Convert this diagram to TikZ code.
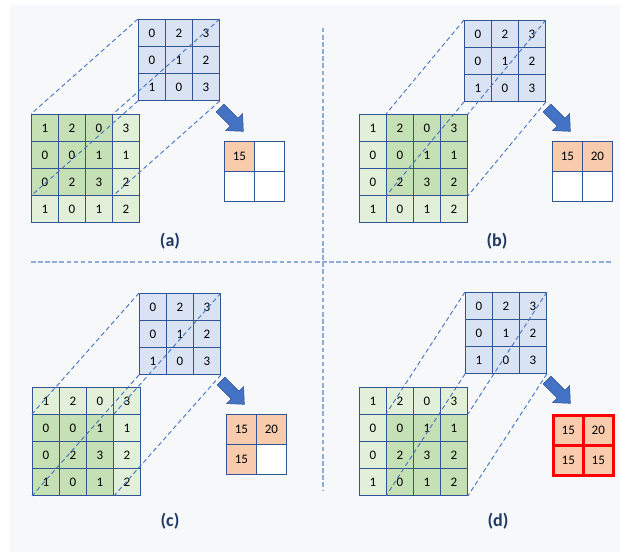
\documentclass[tikz,border=0pt]{standalone}
\usepackage{fontspec}
\setmainfont{Carlito}
\definecolor{bg}{HTML}{F7F8FA}
\definecolor{gridblue}{HTML}{2F5597}
\definecolor{kblue}{HTML}{DAE3F3}
\definecolor{lgreen}{HTML}{E2F0D9}
\definecolor{wgreen}{HTML}{C5E0B4}
\definecolor{oorange}{HTML}{F8CBAD}
\definecolor{guide}{HTML}{4472C4}
\definecolor{sep}{HTML}{8FAADC}
\definecolor{navy}{HTML}{203864}
\definecolor{arrowedge}{HTML}{2F528F}
\tikzset{
  cellbase/.style={draw=gridblue, line width=0.9pt, inner sep=0pt, anchor=north west, font=\fontsize{13}{15}\selectfont},
  kcell/.style={cellbase, minimum size=27pt, fill=kblue},
  icell/.style={cellbase, minimum size=27pt},
  ocell/.style={cellbase, minimum size=30pt, fill=white},
  redcell/.style={cellbase, draw=red, line width=2.6pt, minimum size=30pt, fill=oorange},
  guideline/.style={draw=guide, line width=0.9pt, dash pattern=on 4.5pt off 3pt},
  sepline/.style={draw=sep, line width=2pt, dash pattern=on 4.5pt off 2.6pt},
  bigarrow/.style={fill=guide, draw=arrowedge, line width=0.5pt},
  lab/.style={font=\fontsize{18}{21}\selectfont\bfseries, text=navy, inner sep=0pt}
}
% #1 name, #2 kx, #3 ky, #4 ix, #5 iy, #6 window row, #7 window col, #8 arrow x, #9 arrow y
\newcommand\drawpanel[9]{%
  \foreach \row [count=\r from 0] in {{0,2,3},{0,1,2},{1,0,3}}{
    \foreach \v [count=\cc from 0] in \row {
      \node[kcell] (#1-k-\r-\cc) at (#2+\cc*27, #3+\r*27) {\v};
    }
  }
  \foreach \row [count=\r from 0] in {{1,2,0,3},{0,0,1,1},{0,2,3,2},{1,0,1,2}}{
    \foreach \v [count=\cc from 0] in \row {
      \pgfmathtruncatemacro\hl{and(and(\r>=#6,\r<=#6+2),and(\cc>=#7,\cc<=#7+2))}
      \ifnum\hl=1 \def\cf{wgreen}\else\def\cf{lgreen}\fi
      \node[icell, fill=\cf] (#1-i-\r-\cc) at (#4+\cc*27, #5+\r*27) {\v};
    }
  }
  \pgfmathtruncatemacro\wrb{#6+2}
  \pgfmathtruncatemacro\wcb{#7+2}
  \draw[guideline] (#1-k-0-0.north west) -- (#1-i-#6-#7.north west);
  \draw[guideline] (#1-k-0-2.north east) -- (#1-i-#6-\wcb.north east);
  \draw[guideline] (#1-k-2-0.south west) -- (#1-i-\wrb-#7.south west);
  \draw[guideline] (#1-k-2-2.south east) -- (#1-i-\wrb-\wcb.south east);
  \begin{scope}[shift={(#8,#9)}]
    \begin{scope}[x={(0.7071pt,-0.7071pt)}, y={(0.7071pt,0.7071pt)}]
      \path[bigarrow] (0,-5.5) -- (20,-5.5) -- (20,-12) -- (33,0) -- (20,12) -- (20,5.5) -- (0,5.5) -- cycle;
    \end{scope}
  \end{scope}
}
\begin{document}
\begin{tikzpicture}[x=1pt, y=-1pt]
  \useasboundingbox (0,0) rectangle (620,559);
  \fill[white] (0,0) rectangle (620,559);
  \fill[bg] (10,5) rectangle (620,552);
  % separators
  \coordinate (vt) at (323,28);
  \coordinate (vb) at (323,490);
  \coordinate (hl) at (31,262);
  \coordinate (hr) at (611,262);
  \draw[sepline] (vt) -- (vb);
  \draw[sepline] (hl) -- (hr);
  % panels
  \drawpanel{a}{138}{19}{31}{114}{0}{0}{220}{108}
  \drawpanel{b}{464}{20}{359}{114}{0}{1}{547}{108}
  \drawpanel{c}{139}{293}{32}{387}{1}{0}{221}{381}
  \drawpanel{d}{465}{292}{359}{387}{1}{1}{547}{380}
  % outputs (a)
  \node[ocell, fill=oorange] (a-o-0-0) at (224,141) {15};
  \node[ocell] (a-o-0-1) at (254,141) {};
  \node[ocell] (a-o-1-0) at (224,171) {};
  \node[ocell] (a-o-1-1) at (254,171) {};
  % outputs (b)
  \node[ocell, fill=oorange] (b-o-0-0) at (552,141) {15};
  \node[ocell, fill=oorange] (b-o-0-1) at (582,141) {20};
  \node[ocell] (b-o-1-0) at (552,171) {};
  \node[ocell] (b-o-1-1) at (582,171) {};
  % outputs (c)
  \node[ocell, fill=oorange] (c-o-0-0) at (226,414) {15};
  \node[ocell, fill=oorange] (c-o-0-1) at (256,414) {20};
  \node[ocell, fill=oorange] (c-o-1-0) at (226,444) {15};
  \node[ocell] (c-o-1-1) at (256,444) {};
  % outputs (d)
  \node[redcell] (d-o-0-0) at (552,414) {15};
  \node[redcell] (d-o-0-1) at (582,414) {20};
  \node[redcell] (d-o-1-0) at (552,444) {15};
  \node[redcell] (d-o-1-1) at (582,444) {15};
  % labels
  \node[lab] (la) at (170,241) {(a)};
  \node[lab] (lb) at (497,241) {(b)};
  \node[lab] (lc) at (170,521) {(c)};
  \node[lab] (ld) at (498,521) {(d)};
\end{tikzpicture}
\end{document}
